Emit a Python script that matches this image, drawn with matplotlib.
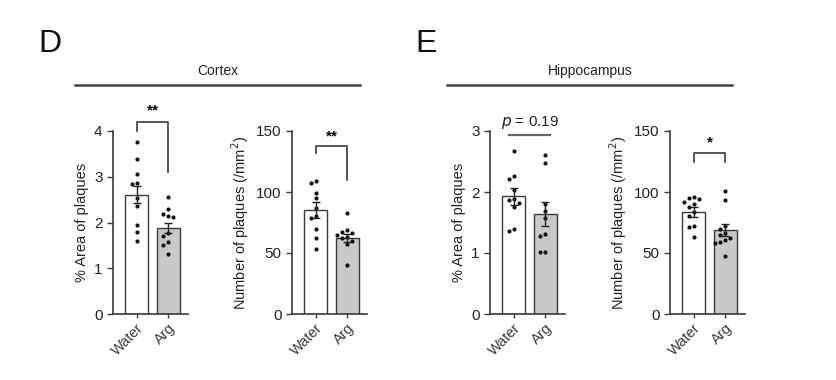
import matplotlib
matplotlib.use("Agg")
import matplotlib.pyplot as plt
import numpy as np

plt.rcParams['font.family'] = ['Liberation Sans', 'DejaVu Sans']

groups = ["Water", "Arg"]

# Cortex, % area of plaques
ctx_area_water = [3.75, 3.38, 3.05, 2.87, 2.84, 2.53, 2.36, 1.95, 1.80, 1.60]
ctx_area_arg = [2.56, 2.29, 2.19, 2.14, 2.12, 1.78, 1.70, 1.58, 1.50, 1.31]
ctx_area_mean = [2.61, 1.88]
ctx_area_sem = [0.18, 0.12]

# Cortex, number of plaques
ctx_num_water = [108.8, 107.5, 99.3, 95.0, 87.0, 80.0, 78.8, 70.0, 62.0, 53.0]
ctx_num_arg = [83.0, 69.0, 67.0, 66.0, 65.0, 63.0, 62.0, 60.0, 57.0, 40.0]
ctx_num_mean = [85.0, 62.0]
ctx_num_sem = [6.4, 3.2]

# Hippocampus, % area of plaques
hip_area_water = [2.68, 2.27, 2.22, 2.03, 1.89, 1.87, 1.82, 1.76, 1.40, 1.36]
hip_area_arg = [2.60, 2.48, 1.81, 1.69, 1.57, 1.31, 1.28, 1.02, 1.02]
hip_area_mean = [1.93, 1.64]
hip_area_sem = [0.14, 0.19]

# Hippocampus, number of plaques
hip_num_water = [95.5, 95.0, 94.0, 92.0, 90.0, 88.0, 84.0, 80.0, 72.0, 71.0, 63.0]
hip_num_arg = [100.6, 93.8, 72.0, 70.0, 66.0, 65.0, 62.0, 61.0, 59.0, 58.0, 47.5]
hip_num_mean = [83.7, 68.7]
hip_num_sem = [4.0, 5.0]

W, H = 836, 380
fig = plt.figure(figsize=(W / 100, H / 100), dpi=100)

GRAY = '#3a3a3a'
BAR_FILL = ['white', '#c9c9c9']


def swarm_offsets(vals, ymax, px_h=183.0, unit_px=31.5, dot_px=5.0):
    placed = []
    offs = []
    for v in vals:
        yp = v / ymax * px_h
        xp = 0.0
        for k in [0, -1, 1, -2, 2]:
            xp = k * dot_px
            if all((xp - a) ** 2 + (yp - b) ** 2 >= dot_px ** 2 for a, b in placed):
                break
        placed.append((xp, yp))
        offs.append(xp / unit_px)
    return offs


def panel(left_px, data, means, sems, ymax, yticks, ylabel):
    ax = fig.add_axes([left_px / W, (H - 314) / H, 75 / W, 183 / H])
    xs = np.arange(len(groups))
    ax.bar(xs, means, width=0.72, color=BAR_FILL, edgecolor=GRAY, linewidth=1.0, zorder=1)
    for i, vals in enumerate(data):
        offs = swarm_offsets(vals, ymax)
        ax.scatter(xs[i] + np.array(offs), vals, s=9, color='#111111', zorder=3, linewidths=0)
    ax.errorbar(xs, means, yerr=sems, fmt='none', ecolor='#222222', elinewidth=1.0,
                capsize=3, capthick=1.0, zorder=4)
    ax.set_xlim(-0.75, 1.62)
    ax.set_ylim(0, ymax)
    ax.set_yticks(yticks)
    ax.set_xticks(xs)
    ax.set_xticklabels(groups, rotation=45, ha='right', rotation_mode='anchor', fontsize=10.5, color='#222222')
    ax.tick_params(axis='y', labelsize=11, colors=GRAY, labelcolor='#222222', length=4, width=1.0)
    ax.tick_params(axis='x', colors=GRAY, length=3, width=1.0, pad=2)
    for s in ['top', 'right']:
        ax.spines[s].set_visible(False)
    for s in ['left', 'bottom']:
        ax.spines[s].set_color(GRAY)
        ax.spines[s].set_linewidth(1.2)
    ax.set_ylabel(ylabel, fontsize=10.5, color='#222222', labelpad=4)
    return ax


ax1 = panel(113, [ctx_area_water, ctx_area_arg], ctx_area_mean, ctx_area_sem, 4, [0, 1, 2, 3, 4],
            "% Area of plaques")
ax1.plot([0, 0, 1, 1], [4.0, 4.2, 4.2, 3.1], color=GRAY, lw=1.2, clip_on=False)
ax1.text(0.5, 4.3, "**", ha='center', va='bottom', fontsize=11, fontweight='bold', clip_on=False)

ax2 = panel(292, [ctx_num_water, ctx_num_arg], ctx_num_mean, ctx_num_sem, 150, [0, 50, 100, 150],
            "Number of plaques (/mm$^2$)")
ax2.plot([0, 0, 1, 1], [132, 137.5, 137.5, 110], color=GRAY, lw=1.2, clip_on=False)
ax2.text(0.5, 140, "**", ha='center', va='bottom', fontsize=11, fontweight='bold', clip_on=False)

ax3 = panel(490, [hip_area_water, hip_area_arg], hip_area_mean, hip_area_sem, 3, [0, 1, 2, 3],
            "% Area of plaques")
ax3.plot([-0.15, 1.15], [2.93, 2.93], color='#666666', lw=1.6, clip_on=False)
ax3.text(0.5, 3.0, "$\\it{p}$ = 0.19", ha='center', va='bottom', fontsize=11, color='#222222', clip_on=False)

ax4 = panel(670, [hip_num_water, hip_num_arg], hip_num_mean, hip_num_sem, 150, [0, 50, 100, 150],
            "Number of plaques (/mm$^2$)")
ax4.plot([0, 0, 1, 1], [124.7, 132, 132, 124.7], color=GRAY, lw=1.2, clip_on=False)
ax4.text(0.5, 135, "*", ha='center', va='bottom', fontsize=11, fontweight='bold', clip_on=False)

# Headers
fig.text(38 / W, 1 - 52 / H, "D", fontsize=23, ha='left', va='baseline', color='#111111')
fig.text(415 / W, 1 - 52 / H, "E", fontsize=23, ha='left', va='baseline', color='#111111')
fig.add_artist(plt.Line2D([75 / W, 360 / W], [1 - 85 / H, 1 - 85 / H], color='#444444', lw=1.8))
fig.add_artist(plt.Line2D([447 / W, 732 / W], [1 - 85 / H, 1 - 85 / H], color='#444444', lw=1.8))
fig.text(218 / W, 1 - 71 / H, "Cortex", fontsize=10, ha='center', va='center', color='#222222')
fig.text(590 / W, 1 - 71 / H, "Hippocampus", fontsize=10, ha='center', va='center', color='#222222')

fig.savefig("out.png", dpi=100)
